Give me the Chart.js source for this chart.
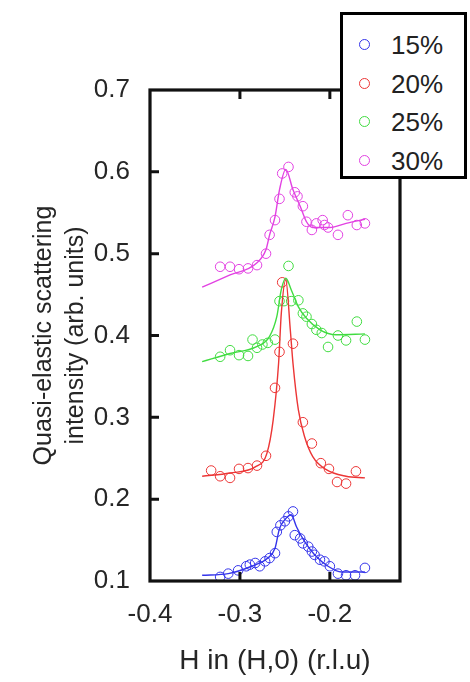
<!DOCTYPE html>
<html>
<head>
<meta charset="utf-8">
<script src="https://cdn.jsdelivr.net/npm/chart.js@4.4.1/dist/chart.umd.min.js"></script>
<style>
  html, body { margin: 0; padding: 0; background: #fff; }
  #wrap { position: relative; width: 470px; height: 682px; }
  #legend {
    position: absolute; left: 340px; top: 12px; width: 121px; height: 161px;
    border: 3px solid #000; background: #fff;
    font-family: Arial, "Liberation Sans", sans-serif; font-size: 26px; color: #222;
  }
  .row { position: absolute; left: 0; height: 30px; line-height: 30px; }
  .mk { position: absolute; left: 16px; top: 9px; width: 9px; height: 9px; border-radius: 50%; border: 1px solid; }
  .lb { position: absolute; left: 48px; top: 0; white-space: nowrap; }
</style>
</head>
<body>
<div id="wrap">
  <canvas id="c" width="470" height="682"></canvas>
  <div id="legend"></div>
</div>
<script>
// ---- data ----
const seriesNames = ['15%', '20%', '25%', '30%'];
const seriesColors = ['#3434ea', '#ec3636', '#40dc40', '#e242e2'];
const xTickValues = [-0.4, -0.3, -0.2];
const yTickValues = [0.1, 0.2, 0.3, 0.4, 0.5, 0.6, 0.7];

// 15% measured points
const blueX = [-0.322,-0.313,-0.302,-0.293,-0.289,-0.283,-0.278,-0.272,-0.267,-0.261,-0.259,-0.255,-0.250,-0.246,-0.241,-0.239,-0.233,-0.230,-0.224,-0.220,-0.217,-0.211,-0.206,-0.200,-0.191,-0.182,-0.172,-0.161];
const blueY = [0.105,0.109,0.113,0.118,0.120,0.122,0.118,0.124,0.128,0.134,0.160,0.168,0.173,0.179,0.185,0.156,0.152,0.146,0.142,0.136,0.132,0.126,0.124,0.118,0.109,0.107,0.107,0.116];
// 15% fit line
const blueFitX = [-0.342,-0.313,-0.287,-0.269,-0.261,-0.256,-0.250,-0.243,-0.237,-0.228,-0.217,-0.202,-0.187,-0.161];
const blueFitY = [0.107,0.109,0.118,0.128,0.140,0.164,0.175,0.181,0.166,0.148,0.132,0.118,0.111,0.111];

// 20% measured points
const redX = [-0.332,-0.322,-0.311,-0.301,-0.291,-0.281,-0.271,-0.261,-0.256,-0.253,-0.241,-0.230,-0.220,-0.210,-0.201,-0.192,-0.182,-0.171];
const redY = [0.235,0.228,0.226,0.237,0.238,0.241,0.253,0.336,0.380,0.465,0.390,0.294,0.268,0.244,0.237,0.221,0.219,0.234];
// 20% fit line
const redFitX = [-0.342,-0.311,-0.282,-0.270,-0.263,-0.257,-0.254,-0.249,-0.244,-0.241,-0.235,-0.228,-0.219,-0.204,-0.182,-0.161];
const redFitY = [0.228,0.232,0.240,0.256,0.297,0.366,0.427,0.468,0.407,0.366,0.309,0.276,0.252,0.236,0.228,0.226];

// 25% measured points
const greenX = [-0.322,-0.311,-0.301,-0.291,-0.286,-0.281,-0.275,-0.269,-0.261,-0.256,-0.251,-0.246,-0.243,-0.235,-0.230,-0.226,-0.220,-0.215,-0.209,-0.202,-0.191,-0.182,-0.170,-0.161];
const greenY = [0.374,0.382,0.376,0.375,0.395,0.385,0.389,0.391,0.395,0.442,0.442,0.485,0.442,0.443,0.427,0.423,0.414,0.407,0.403,0.386,0.400,0.394,0.417,0.395];
// 25% fit line
const greenFitX = [-0.342,-0.311,-0.282,-0.267,-0.259,-0.254,-0.249,-0.243,-0.235,-0.226,-0.211,-0.193,-0.161];
const greenFitY = [0.368,0.378,0.386,0.399,0.423,0.456,0.470,0.456,0.435,0.421,0.407,0.401,0.402];

// 30% measured points
const magentaX = [-0.322,-0.311,-0.301,-0.291,-0.281,-0.271,-0.267,-0.261,-0.256,-0.253,-0.246,-0.239,-0.236,-0.230,-0.226,-0.220,-0.215,-0.208,-0.206,-0.202,-0.191,-0.180,-0.170,-0.161];
const magentaY = [0.484,0.484,0.481,0.482,0.486,0.500,0.523,0.541,0.567,0.598,0.606,0.575,0.570,0.558,0.539,0.529,0.537,0.541,0.535,0.532,0.523,0.547,0.535,0.537];
// 30% fit line
const magentaFitX = [-0.342,-0.311,-0.282,-0.271,-0.267,-0.261,-0.256,-0.249,-0.241,-0.233,-0.226,-0.219,-0.200,-0.182,-0.161];
const magentaFitY = [0.459,0.474,0.488,0.505,0.523,0.545,0.578,0.603,0.578,0.558,0.539,0.532,0.532,0.537,0.542];

const xTitle = 'H in (H,0) (r.l.u)';
const yTitle = ['Quasi-elastic scattering', 'intensity (arb. units)'];

// ---- build datasets ----
const zip = (xs, ys) => xs.map((x, i) => ({ x: x, y: ys[i] }));
const pointSets = [[blueX, blueY], [redX, redY], [greenX, greenY], [magentaX, magentaY]];
const fitSets = [[blueFitX, blueFitY], [redFitX, redFitY], [greenFitX, greenFitY], [magentaFitX, magentaFitY]];

const datasets = [];
fitSets.forEach((s, i) => {
  datasets.push({
    type: 'line', label: seriesNames[i] + ' fit', data: zip(s[0], s[1]),
    borderColor: seriesColors[i], borderWidth: 1.4, pointRadius: 0,
    cubicInterpolationMode: 'monotone', fill: false
  });
});
pointSets.forEach((s, i) => {
  datasets.push({
    type: 'scatter', label: seriesNames[i], data: zip(s[0], s[1]),
    borderColor: seriesColors[i], backgroundColor: 'rgba(0,0,0,0)',
    pointRadius: 4.8, borderWidth: 1, pointStyle: 'circle'
  });
});

const FONT = 'Arial, "Liberation Sans", sans-serif';

const frame = {
  id: 'frame',
  afterDraw(chart) {
    const { ctx, chartArea: a, scales } = chart;
    ctx.save();
    ctx.strokeStyle = '#111';
    ctx.lineWidth = 3.2;
    ctx.strokeRect(a.left, a.top, a.right - a.left, a.bottom - a.top);
    ctx.lineWidth = 3;
    ctx.beginPath();
    yTickValues.slice(1, -1).forEach(v => {
      const y = scales.y.getPixelForValue(v);
      ctx.moveTo(a.left, y); ctx.lineTo(a.left + 9, y);
    });
    xTickValues.slice(1).forEach(v => {
      const x = scales.x.getPixelForValue(v);
      ctx.moveTo(x, a.bottom); ctx.lineTo(x, a.bottom - 9);
      ctx.moveTo(x, a.top); ctx.lineTo(x, a.top + 9);
    });
    ctx.stroke();
    ctx.restore();
  }
};

new Chart(document.getElementById('c'), {
  type: 'scatter',
  data: { datasets },
  plugins: [frame],
  options: {
    responsive: false, animation: false,
    layout: { padding: { top: 90, right: 70, left: 24, bottom: 0 } },
    plugins: { legend: { display: false }, tooltip: { enabled: false } },
    scales: {
      x: {
        type: 'linear', min: -0.4, max: -0.122,
        afterBuildTicks: s => { s.ticks = xTickValues.map(v => ({ value: v })); },
        afterFit: s => { s.height = 101; },
        grid: { display: false }, border: { display: false },
        ticks: { color: '#262626', font: { family: FONT, size: 26 }, padding: 10,
                 callback: v => v.toFixed(1) },
        title: { display: true, text: xTitle, color: '#262626',
                 font: { family: FONT, size: 28 }, padding: { top: 12 } }
      },
      y: {
        type: 'linear', min: 0.1, max: 0.7,
        afterBuildTicks: s => { s.ticks = yTickValues.map(v => ({ value: v })); },
        afterFit: s => { s.width = 126; },
        grid: { display: false }, border: { display: false },
        ticks: { color: '#262626', font: { family: FONT, size: 26 }, padding: 12,
                 callback: v => v.toFixed(1) },
        title: { display: true, text: yTitle, color: '#262626',
                 font: { family: FONT, size: 25, lineHeight: 1.28 }, padding: { top: 4, bottom: 4 } }
      }
    }
  }
});

// HTML legend built from the series arrays
const leg = document.getElementById('legend');
seriesNames.forEach((n, i) => {
  const r = document.createElement('div');
  r.className = 'row';
  r.style.top = (15 + i * 38.5) + 'px';
  r.innerHTML = '<span class="mk" style="border-color:' + seriesColors[i] + '"></span><span class="lb">' + n + '</span>';
  leg.appendChild(r);
});
</script>
</body>
</html>
